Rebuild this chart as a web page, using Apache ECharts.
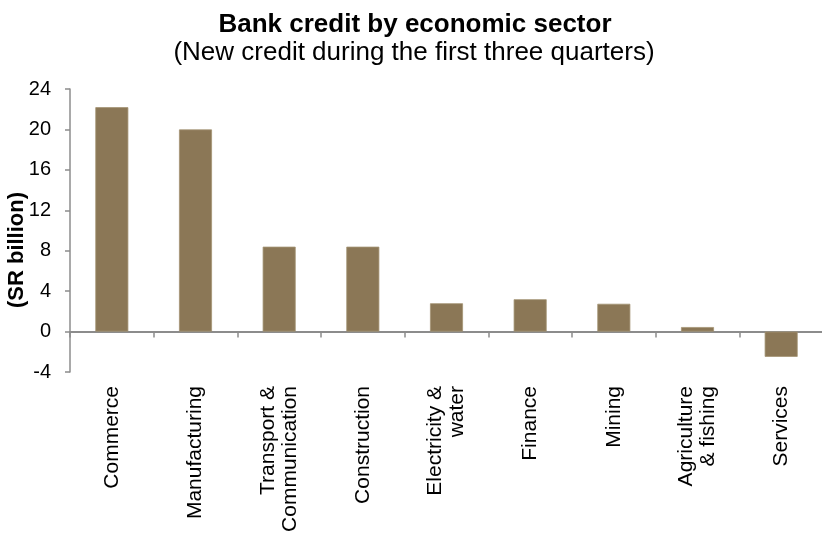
<!DOCTYPE html>
<html>
<head>
<meta charset="utf-8">
<script src="https://cdn.jsdelivr.net/npm/echarts@6/dist/echarts.min.js"></script>
<style>
  html, body { margin: 0; padding: 0; background: #ffffff; }
  #chart { width: 822px; height: 534px; }
</style>
</head>
<body>
<div id="chart"></div>
<script>
// Sectors and new bank credit (SR billion) during the first three quarters
var sectors = [
  'Commerce',
  'Manufacturing',
  'Transport &\nCommunication',
  'Construction',
  'Electricity &\nwater',
  'Finance',
  'Mining',
  'Agriculture\n& fishing',
  'Services'
];
var newCredit = [22.2, 20.0, 8.4, 8.4, 2.8, 3.2, 2.75, 0.45, -2.5];

// Value axis ticks
var yMin = -4;
var yMax = 24;
var yStep = 4;

var titleText = 'Bank credit by economic sector';
var subtitleText = '(New credit during the first three quarters)';
var yAxisTitle = '(SR billion)';

var FONT = 'Liberation Sans, Arial, Helvetica, sans-serif';
var AXIS_GREY = '#8c8c8c';
var BAR_COLOUR = '#8b7756';

var chart = echarts.init(document.getElementById('chart'), null, { renderer: 'canvas' });

chart.setOption({
  animation: false,
  backgroundColor: '#ffffff',
  textStyle: { fontFamily: FONT },
  title: [
    {
      text: titleText,
      left: 410,
      top: 7,
      textAlign: 'center',
      textStyle: { fontFamily: FONT, fontWeight: 'bold', fontSize: 26, color: '#000000' }
    },
    {
      text: subtitleText,
      left: 409,
      top: 35,
      textAlign: 'center',
      textStyle: { fontFamily: FONT, fontWeight: 'normal', fontSize: 26, color: '#000000' }
    }
  ],
  grid: { left: 70, top: 89, width: 753, height: 283, containLabel: false, outerBoundsMode: 'none' },
  xAxis: {
    type: 'category',
    data: sectors,
    boundaryGap: true,
    axisLine: { onZero: true, lineStyle: { color: AXIS_GREY, width: 2 } },
    axisTick: { show: true, inside: false, length: 6, alignWithLabel: false, lineStyle: { color: AXIS_GREY, width: 1.5 } },
    axisLabel: {
      rotate: 90,
      interval: 0,
      margin: 14,
      color: '#000000',
      fontFamily: FONT,
      fontSize: 21,
      lineHeight: 22,
      align: 'right'
    },
    splitLine: { show: false }
  },
  yAxis: {
    type: 'value',
    min: yMin,
    max: yMax,
    interval: yStep,
    axisLine: { show: true, lineStyle: { color: AXIS_GREY, width: 1.5 } },
    axisTick: { show: true, inside: false, length: 5, lineStyle: { color: AXIS_GREY, width: 1.5 } },
    axisLabel: { color: '#000000', fontFamily: FONT, fontSize: 20, margin: 19 },
    splitLine: { show: false }
  },
  graphic: [
    {
      type: 'text',
      x: 17,
      y: 250,
      rotation: Math.PI / 2,
      style: {
        text: yAxisTitle,
        fill: '#000000',
        font: 'bold 22px ' + FONT,
        textAlign: 'center',
        textVerticalAlign: 'middle'
      }
    }
  ],
  series: [
    {
      type: 'bar',
      data: newCredit,
      barWidth: 33,
      itemStyle: { color: BAR_COLOUR, borderColor: '#a39373', borderWidth: 0.8 }
    }
  ]
});
</script>
</body>
</html>
